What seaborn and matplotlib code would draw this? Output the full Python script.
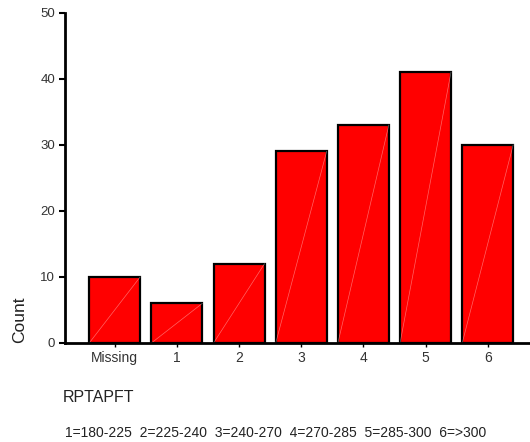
import matplotlib
matplotlib.use("Agg")
import matplotlib.pyplot as plt
import seaborn as sns
import pandas as pd

# data
categories = ["Missing", "1", "2", "3", "4", "5", "6"]
counts = [10, 6, 12, 29, 33, 41, 30]
y_ticks = [0, 10, 20, 30, 40, 50]
legend_text = "1=180-225  2=225-240  3=240-270  4=270-285  5=285-300  6=>300"

sns.set_style("white")
plt.rcParams['font.family'] = ['Liberation Sans', 'DejaVu Sans']

df = pd.DataFrame({"RPTAPFT": categories, "Count": counts})

fig = plt.figure(figsize=(5.3, 4.42), dpi=100)
ax = fig.add_axes([0.1226, 0.224, 0.8774, 0.7477])

sns.barplot(data=df, x="RPTAPFT", y="Count", order=categories, color="#ff0000",
            saturation=1, width=0.82, edgecolor="black", linewidth=1.6, ax=ax)

# faint white diagonal inside each bar (SPSS rendering artefact)
for p in ax.patches:
    x0, y0 = p.get_x(), p.get_y()
    ax.plot([x0, x0 + p.get_width()], [y0, y0 + p.get_height()],
            color="white", lw=0.5, alpha=0.4, zorder=p.get_zorder() + 0.1)

ax.set_ylim(0, 50)
ax.set_xlim(-0.80, 6.68)
ax.set_yticks(y_ticks)

for side in ["top", "right"]:
    ax.spines[side].set_visible(False)
for side in ["left", "bottom"]:
    ax.spines[side].set_linewidth(2)
    ax.spines[side].set_color("black")

ax.tick_params(axis="y", direction="out", length=4, width=1.5, color="black",
               labelsize=9.5, labelcolor="#333333", pad=3, left=True)
ax.tick_params(axis="x", direction="out", length=3, width=1, color="black",
               labelsize=10, labelcolor="#333333", pad=3, bottom=True)

ax.set_xlabel("")
ax.set_ylabel("Count", fontsize=12.5, color="#222222")
ax.yaxis.set_label_coords(-0.082, 0.0, transform=ax.transAxes)
ax.yaxis.label.set_va("bottom")
ax.yaxis.label.set_ha("left")

fig.text(63 / 530, 1 - 398 / 442, "RPTAPFT", fontsize=11.5, color="#222222",
         ha="left", va="center")
fig.text(65 / 530, 1 - 433 / 442, legend_text, fontsize=10, color="#222222",
         ha="left", va="center")

fig.savefig("out.png", dpi=100)
